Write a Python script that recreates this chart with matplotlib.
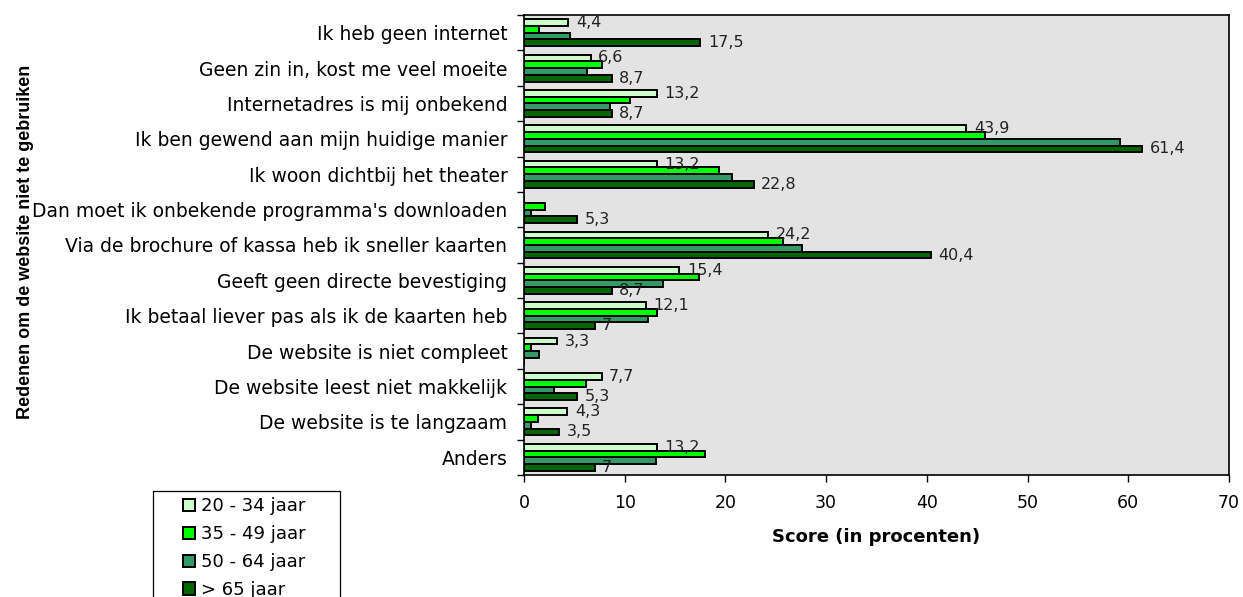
import matplotlib.pyplot as plt
from matplotlib.patches import Rectangle
import numpy as np

# Redenen om de website niet te gebruiken, per leeftijdsgroep (in procenten)
redenen = [
    "Ik heb geen internet",
    "Geen zin in, kost me veel moeite",
    "Internetadres is mij onbekend",
    "Ik ben gewend aan mijn huidige manier",
    "Ik woon dichtbij het theater",
    "Dan moet ik onbekende programma's downloaden",
    "Via de brochure of kassa heb ik sneller kaarten",
    "Geeft geen directe bevestiging",
    "Ik betaal liever pas als ik de kaarten heb",
    "De website is niet compleet",
    "De website leest niet makkelijk",
    "De website is te langzaam",
    "Anders",
]
groep_20_34 = [4.4, 6.6, 13.2, 43.9, 13.2, 0, 24.2, 15.4, 12.1, 3.3, 7.7, 4.3, 13.2]
groep_35_49 = [1.5, 7.7, 10.5, 45.8, 19.4, 2.1, 25.7, 17.4, 13.2, 0.7, 6.2, 1.4, 18.0]
groep_50_64 = [4.6, 6.3, 8.5, 59.2, 20.7, 0.7, 27.6, 13.8, 12.3, 1.5, 3.0, 0.7, 13.1]
groep_65 = [17.5, 8.7, 8.7, 61.4, 22.8, 5.3, 40.4, 8.7, 7, 0, 5.3, 3.5, 7]

series = [
    ("20 - 34 jaar", groep_20_34, "#CCFFCC", True),
    ("35 - 49 jaar", groep_35_49, "#00FF00", False),
    ("50 - 64 jaar", groep_50_64, "#339966", False),
    ("> 65 jaar", groep_65, "#006600", True),
]


def nl_getal(v):
    """format a number the Dutch way (comma as decimal separator)"""
    if float(v).is_integer():
        return str(int(v))
    return ("%.1f" % v).replace(".", ",")


fig = plt.figure(figsize=(12.43, 5.97), dpi=100)
ax = fig.add_axes([0.4216, 0.2044, 0.5671, 0.7705])
ax.set_facecolor("#E3E3E3")

y = np.arange(len(redenen))
h = 0.19
for i, (naam, waarden, kleur, label) in enumerate(series):
    pos = y - 1.5 * h + i * h
    ax.barh(pos, waarden, height=h, color=kleur, edgecolor="black",
            linewidth=1.4, label=naam)
    if label:
        for p, v in zip(pos, waarden):
            if v > 0:
                ax.annotate(nl_getal(v), (v, p), xytext=(5.5, 0),
                            textcoords="offset points", va="center",
                            ha="left", fontsize=11.5, color="#222222")

ax.set_xlim(0, 70)
ax.set_ylim(len(redenen) - 0.5, -0.5)
ax.set_xticks(range(0, 71, 10))
ax.set_yticks(y)
ax.set_yticklabels(redenen, fontsize=13.5)
ax.set_yticks(np.arange(-0.5, len(redenen), 1), minor=True)
ax.tick_params(axis="y", which="major", length=0, pad=12)
ax.tick_params(axis="y", which="minor", length=5, width=1)
ax.tick_params(axis="x", length=5, width=1, labelsize=12.5, pad=9)
for s in ax.spines.values():
    s.set_linewidth(1.2)

ax.set_xlabel("Score (in procenten)", fontsize=13, fontweight="bold",
              labelpad=11)
fig.text(0.0205, 0.595, "Redenen om de website niet te gebruiken",
         rotation=90, va="center", ha="center", fontsize=13,
         fontweight="bold", family="Liberation Sans")

# legend box is wider than its entries and runs off the bottom edge
leg = fig.legend(loc="upper left", fontsize=13, frameon=False,
                 handlelength=0.7, handleheight=0.7, handletextpad=0.3,
                 labelspacing=0.55, borderpad=0, borderaxespad=0)
leg.set_bbox_to_anchor((0.147, 0.167), transform=fig.transFigure)
fig.patches.append(Rectangle((153 / 1243, -0.02), (340 - 153) / 1243,
                             0.02 + (597 - 491) / 597,
                             transform=fig.transFigure, fill=False,
                             edgecolor="black", linewidth=0.9))

plt.savefig("out.png", dpi=100)
